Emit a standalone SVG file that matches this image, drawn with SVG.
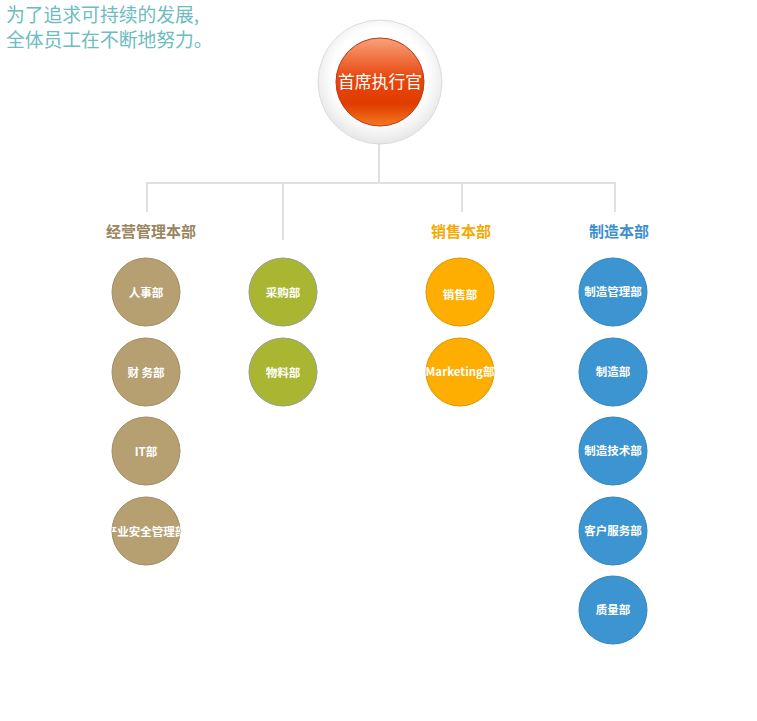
<svg xmlns="http://www.w3.org/2000/svg" width="757" height="721" viewBox="0 0 757 721">
<defs>
<style>
.hdr{font-family:"Noto Sans CJK SC","Noto Sans",sans-serif;font-size:18.8px;fill:#6cbcc0}
.sec{font-family:"Noto Sans CJK SC","Noto Sans",sans-serif;font-size:15px;font-weight:bold;text-anchor:middle}
.lbl{font-family:"Noto Sans CJK SC","Noto Sans",sans-serif;font-size:11.5px;font-weight:bold;fill:#fff;text-anchor:middle}
.ln{stroke:#e0e0e0;stroke-width:2;fill:none}
.brown{fill:#b6a072;stroke:#a38d62;stroke-width:1}
.green{fill:#a9b632;stroke:#9a9a9a;stroke-width:1}
.orange{fill:#feae00;stroke:#dc9500;stroke-width:1}
.blue{fill:#3c95d1;stroke:#3585bd;stroke-width:1}
</style>
<radialGradient id="outerG" cx="0.5" cy="0.45" r="0.55">
<stop offset="0.7" stop-color="#ffffff"/>
<stop offset="1" stop-color="#e6e6e6"/>
</radialGradient>
<linearGradient id="redG" x1="0" y1="0" x2="0" y2="1">
<stop offset="0" stop-color="#f7a27a"/>
<stop offset="0.45" stop-color="#e8470e"/>
<stop offset="0.75" stop-color="#e03c00"/>
<stop offset="1" stop-color="#f57a20"/>
</linearGradient>
<clipPath id="clipIS"><circle cx="146" cy="531" r="34"/></clipPath>
</defs>

<g id="header">
<text class="hdr" x="6" y="22">为了追求可持续的发展,</text>
<text class="hdr" x="6" y="47">全体员工在不断地努力。</text>
</g>

<g id="connectors">
<line class="ln" x1="379" y1="144" x2="379" y2="183"/>
<line class="ln" x1="146" y1="183" x2="616" y2="183"/>
<line class="ln" x1="147" y1="182" x2="147" y2="212"/>
<line class="ln" x1="283" y1="182" x2="283" y2="240"/>
<line class="ln" x1="462" y1="182" x2="462" y2="212"/>
<line class="ln" x1="615" y1="182" x2="615" y2="212"/>
</g>

<g id="ceo">
<circle cx="380" cy="82" r="62" fill="url(#outerG)" stroke="#dcdcdc" stroke-width="1"/>
<circle cx="380" cy="82" r="44" fill="url(#redG)" stroke="#b83a1a" stroke-width="1"/>
<text x="380" y="88" font-family="'Noto Sans CJK SC','Noto Sans',sans-serif" font-size="16.8" fill="#fff" text-anchor="middle">首席执行官</text>
</g>

<g id="sec-mgmt"><text class="sec" x="151" y="237" fill="#9a855e">经营管理本部</text></g>
<g id="sec-sales"><text class="sec" x="461" y="237" fill="#f5a900">销售本部</text></g>
<g id="sec-mfg"><text class="sec" x="619" y="237" fill="#3b8fcf">制造本部</text></g>

<g id="hr"><circle class="brown" cx="146" cy="292" r="34"/><text class="lbl" x="146" y="297">人事部</text></g>
<g id="finance"><circle class="brown" cx="146" cy="372" r="34"/><text class="lbl" x="146" y="377">财 务部</text></g>
<g id="it"><circle class="brown" cx="146" cy="451" r="34"/><text class="lbl" x="146" y="456">IT部</text></g>
<g id="safety"><circle class="brown" cx="146" cy="531" r="34"/><text class="lbl" x="146" y="536" clip-path="url(#clipIS)">产业安全管理部</text></g>

<g id="purchase"><circle class="green" cx="283" cy="292" r="34"/><text class="lbl" x="283" y="297">采购部</text></g>
<g id="material"><circle class="green" cx="283" cy="372" r="34"/><text class="lbl" x="283" y="377">物料部</text></g>

<g id="sales"><circle class="orange" cx="460" cy="292" r="34"/><text class="lbl" x="460" y="299">销售部</text></g>
<g id="marketing"><circle class="orange" cx="460" cy="372" r="34"/><text class="lbl" x="460" y="376">Marketing部</text></g>

<g id="mfgmgmt"><circle class="blue" cx="613" cy="292" r="34"/><text class="lbl" x="613" y="296">制造管理部</text></g>
<g id="mfg"><circle class="blue" cx="613" cy="372" r="34"/><text class="lbl" x="613" y="376">制造部</text></g>
<g id="mfgtech"><circle class="blue" cx="613" cy="451" r="34"/><text class="lbl" x="613" y="455">制造技术部</text></g>
<g id="cs"><circle class="blue" cx="613" cy="531" r="34"/><text class="lbl" x="613" y="535">客户服务部</text></g>
<g id="quality"><circle class="blue" cx="613" cy="610" r="34"/><text class="lbl" x="613" y="614">质量部</text></g>
</svg>
